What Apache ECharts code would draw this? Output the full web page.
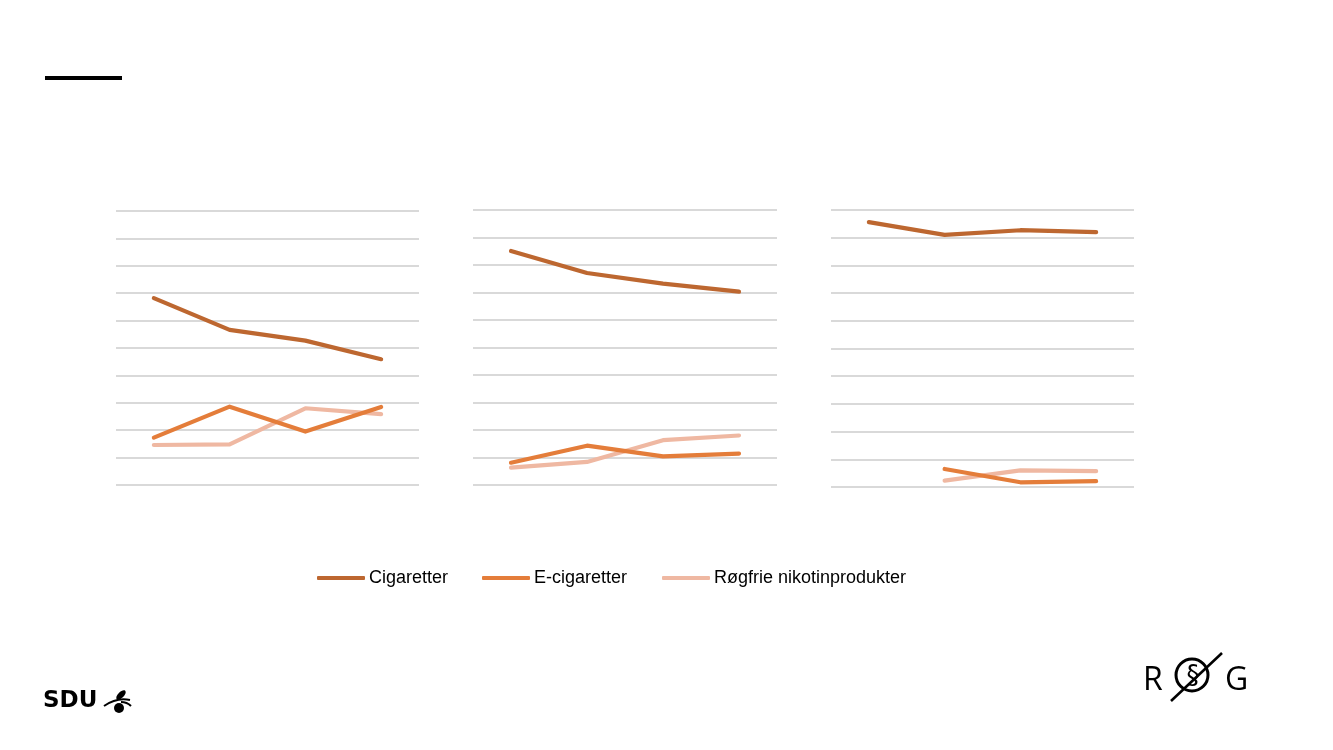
<!DOCTYPE html>
<html>
<head>
<meta charset="utf-8">
<script src="https://cdn.jsdelivr.net/npm/echarts@6/dist/echarts.min.js"></script>
<style>
html,body{margin:0;padding:0;background:#fff;}
#chart{width:1333px;height:750px;}
</style>
</head>
<body>
<div id="chart"></div>
<script>
const categories = ['1', '2', '3', '4'];
const seriesNames = ['Cigaretter', 'E-cigaretter', 'Røgfrie nikotinprodukter'];
const panel1Cigaretter = [68.2, 56.6, 52.7, 45.9];
const panel1ECigaretter = [17.3, 28.6, 19.5, 28.5];
const panel1Roegfrie = [14.6, 14.8, 28.0, 25.9];
const panel2Cigaretter = [85.1, 77.1, 73.2, 70.3];
const panel2ECigaretter = [8.1, 14.3, 10.4, 11.4];
const panel2Roegfrie = [6.3, 8.4, 16.3, 18.0];
const panel3Cigaretter = [95.6, 91.0, 92.7, 92.0];
const panel3ECigaretter = [null, 6.5, 1.7, 2.1];
const panel3Roegfrie = [null, 2.3, 6.0, 5.7];
const yTicks = {min: 0, max: 100, interval: 10};

const panels = [
  [panel1Cigaretter, panel1ECigaretter, panel1Roegfrie],
  [panel2Cigaretter, panel2ECigaretter, panel2Roegfrie],
  [panel3Cigaretter, panel3ECigaretter, panel3Roegfrie]
];
const colors = ['#BD6730', '#E47D3A', '#EFB8A2'];
const grids = [
  {left: 116, width: 303, top: 211, height: 274},
  {left: 473, width: 304, top: 210, height: 275},
  {left: 831, width: 303, top: 210, height: 277}
];

const xAxes = grids.map((g, i) => ({
  type: 'category', gridIndex: i, data: categories, boundaryGap: true,
  axisLine: {show: false}, axisTick: {show: false}, axisLabel: {show: false}
}));
const yAxes = grids.map((g, i) => ({
  type: 'value', gridIndex: i, min: yTicks.min, max: yTicks.max, interval: yTicks.interval,
  axisLine: {show: false}, axisTick: {show: false}, axisLabel: {show: false},
  splitLine: {show: true, lineStyle: {color: '#D9D9D9', width: 2}}
}));
const series = [];
panels.forEach((p, i) => {
  p.forEach((vals, k) => {
    series.push({
      name: seriesNames[k], type: 'line', xAxisIndex: i, yAxisIndex: i,
      data: vals, showSymbol: false, symbol: 'none', connectNulls: false,
      lineStyle: {color: colors[k], width: 4.2, cap: 'round', join: 'round'},
      itemStyle: {color: colors[k]}, z: 5 - k, animation: false
    });
  });
});

const legendLefts = [317, 482, 662];
const legends = seriesNames.map((n, k) => ({
  data: [n], left: legendLefts[k], top: 569, padding: 0, itemWidth: 48, itemHeight: 4, itemGap: 0,
  icon: 'roundRect',
  textStyle: {fontFamily: 'Liberation Sans, Arial, sans-serif', fontSize: 18, color: '#000', padding: [0, 0, 0, -1]},
  selectedMode: false
}));

const chart = echarts.init(document.getElementById('chart'), null, {renderer: 'canvas'});
chart.setOption({
  animation: false,
  backgroundColor: '#fff',
  grid: grids,
  xAxis: xAxes,
  yAxis: yAxes,
  legend: legends,
  series: series,
  graphic: [
    {type: 'rect', shape: {x: 45, y: 76, width: 77, height: 4}, style: {fill: '#000'}},
    // SDU logo
    {type: 'text', x: 43, y: 690, style: {text: 'SDU', font: 'bold 23px "DejaVu Sans", sans-serif', fill: '#000'}},
    {type: 'bezierCurve', shape: {x1: 104, y1: 706, x2: 130, y2: 700, cpx1: 117, cpy1: 697}, style: {stroke: '#000', lineWidth: 2, fill: null}},
    {type: 'ellipse', x: 121, y: 695, rotation: Math.PI / 4, shape: {cx: 0, cy: 0, rx: 6, ry: 3}, style: {fill: '#000'}},
    {type: 'circle', shape: {cx: 119, cy: 708, r: 5}, style: {fill: '#000'}},
    {type: 'bezierCurve', shape: {x1: 121, y1: 702, x2: 131, y2: 706, cpx1: 127, cpy1: 702}, style: {stroke: '#000', lineWidth: 2, fill: null}},
    // RØG logo
    {type: 'text', x: 1143, y: 665, style: {text: 'R', font: '32px "Open Sans", sans-serif', fill: '#000'}},
    {type: 'circle', shape: {cx: 1192, cy: 675, r: 16}, style: {stroke: '#000', lineWidth: 3, fill: null}},
    {type: 'line', shape: {x1: 1171, y1: 701, x2: 1222, y2: 653}, style: {stroke: '#000', lineWidth: 2.5}},
    {type: 'text', x: 1193, y: 677, style: {text: '§', font: '26px "DejaVu Sans", sans-serif', fill: '#000', align: 'center', verticalAlign: 'middle'}},
    {type: 'text', x: 1225, y: 665, style: {text: 'G', font: '32px "Open Sans", sans-serif', fill: '#000'}}
  ]
});
</script>
</body>
</html>
